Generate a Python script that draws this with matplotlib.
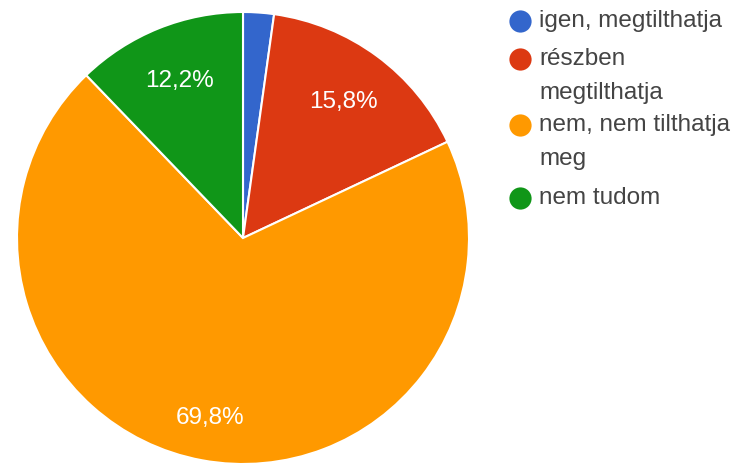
import matplotlib.pyplot as plt
import numpy as np

# data
labels = ["igen, megtilthatja", "részben\nmegtilthatja", "nem, nem tilthatja\nmeg", "nem tudom"]
values = [2.2, 15.8, 69.8, 12.2]
colors = ["#3366cc", "#dc3912", "#ff9900", "#109618"]

plt.rcParams['font.family'] = ['Liberation Sans', 'DejaVu Sans']

W, H = 733, 466
fig = plt.figure(figsize=(W / 100, H / 100), dpi=100)

# pie axes, centre (243, 238) px, radius 226 px
cx, cy, r = 243, 238, 226
ax = fig.add_axes([(cx - r) / W, (H - cy - r) / H, 2 * r / W, 2 * r / H])


def fmt(p):
    if p < 5:
        return ""
    return ("%.1f%%" % p).replace(".", ",")


wedges, texts, autotexts = ax.pie(
    values, colors=colors, startangle=90, counterclock=False,
    autopct=fmt, pctdistance=0.75, radius=1,
    wedgeprops=dict(edgecolor="white", linewidth=1.5),
    textprops=dict(color="white", fontsize=17.5))

# the big slice label sits a little further out
for w, t in zip(wedges, autotexts):
    if w.theta2 - w.theta1 > 180:
        ang = np.deg2rad((w.theta1 + w.theta2) / 2)
        t.set_position((0.81 * np.cos(ang), 0.81 * np.sin(ang)))

ax.set_xlim(-1, 1)
ax.set_ylim(-1, 1)
ax.set_aspect("equal")
ax.axis("off")

# legend drawn in pixel space
lax = fig.add_axes([0, 0, 1, 1])
lax.set_xlim(0, W)
lax.set_ylim(H, 0)
lax.axis("off")
rows = [21, 59, 125, 198]
for lab, c, y in zip(labels, colors, rows):
    lax.plot(520, y, "o", color=c, markersize=16, markeredgewidth=0)
    for i, line in enumerate(lab.split("\n")):
        lax.text(539, y + i * 34, line, fontsize=17.5, color="#444444",
                 va="center", ha="left")

fig.savefig("out.png", dpi=100)
